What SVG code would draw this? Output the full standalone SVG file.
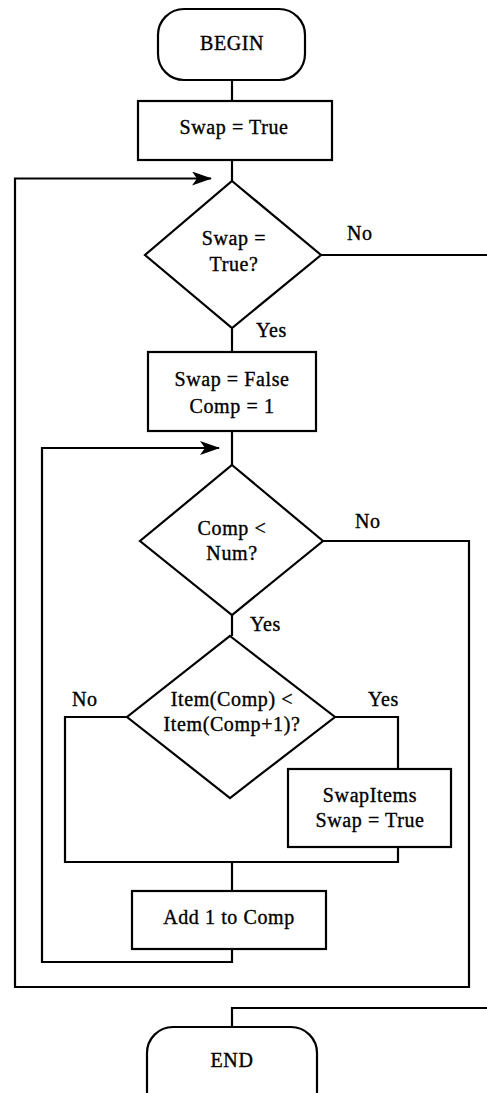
<svg xmlns="http://www.w3.org/2000/svg" width="487" height="1093" viewBox="0 0 487 1093">
<style>
.s{fill:#fff;stroke:#000;stroke-width:2.2}
.c{fill:none;stroke:#000;stroke-width:2.2}
text{font-family:"Liberation Serif","Times New Roman",serif;font-size:20px;letter-spacing:0.6px;fill:#000;stroke:#000;stroke-width:0.35;text-anchor:middle}
.l{text-anchor:start}
</style>
<defs>
<marker id="ah" markerWidth="20" markerHeight="14" refX="19" refY="7" orient="auto" markerUnits="userSpaceOnUse">
<path d="M0,0 L20,7 L0,14 L5,7 Z" fill="#000"/>
</marker>
</defs>
<rect width="487" height="1093" fill="#fff"/>
<g id="connectors">
<path class="c" d="M232,80 V101"/>
<path class="c" d="M232,160 V181"/>
<path class="c" d="M321,255 H487"/>
<path class="c" d="M232,328 V352"/>
<path class="c" d="M232,431 V465"/>
<path class="c" d="M323,541 H469 V987 H15 V178.5 H211" marker-end="url(#ah)"/>
<path class="c" d="M232,615 V636"/>
<path class="c" d="M127,717 H65 V862 H398 V847"/>
<path class="c" d="M335,717 H398 V769"/>
<path class="c" d="M232,862 V891"/>
<path class="c" d="M232,949 V962 H42 V448 H219" marker-end="url(#ah)"/>
<path class="c" d="M487,1008 H232 V1027"/>
</g>
<g id="begin">
<rect class="s" x="158" y="9" width="147" height="71" rx="26" ry="26"/>
<text x="232" y="50">BEGIN</text>
</g>
<g id="init">
<rect class="s" x="138" y="101" width="194" height="59"/>
<text x="234" y="134">Swap = True</text>
</g>
<g id="dec1">
<polygon class="s" points="232,181 321,255 232,328 145,255"/>
<text x="234" y="245">Swap =</text>
<text x="234" y="271">True?</text>
<text class="l" x="347" y="240">No</text>
<text class="l" x="256" y="337">Yes</text>
</g>
<g id="reset">
<rect class="s" x="148" y="352" width="168" height="79"/>
<text x="232" y="386">Swap = False</text>
<text x="232" y="413">Comp = 1</text>
</g>
<g id="dec2">
<polygon class="s" points="232,465 323,541 232,615 140,541"/>
<text x="232" y="535">Comp &lt;</text>
<text x="232" y="560">Num?</text>
<text class="l" x="355" y="528">No</text>
<text class="l" x="250" y="631">Yes</text>
</g>
<g id="dec3">
<polygon class="s" points="230,636 335,717 230,798 127,717"/>
<text x="232" y="706">Item(Comp) &lt;</text>
<text x="232" y="731">Item(Comp+1)?</text>
<text class="l" x="72" y="706">No</text>
<text class="l" x="368" y="706">Yes</text>
</g>
<g id="swapitems">
<rect class="s" x="288" y="769" width="163" height="78"/>
<text x="370" y="802">SwapItems</text>
<text x="370" y="827">Swap = True</text>
</g>
<g id="inc">
<rect class="s" x="132" y="891" width="194" height="58"/>
<text x="229" y="924">Add 1 to Comp</text>
</g>
<g id="end">
<rect class="s" x="147" y="1027" width="170" height="110" rx="26" ry="26"/>
<text x="232" y="1067">END</text>
</g>
</svg>
